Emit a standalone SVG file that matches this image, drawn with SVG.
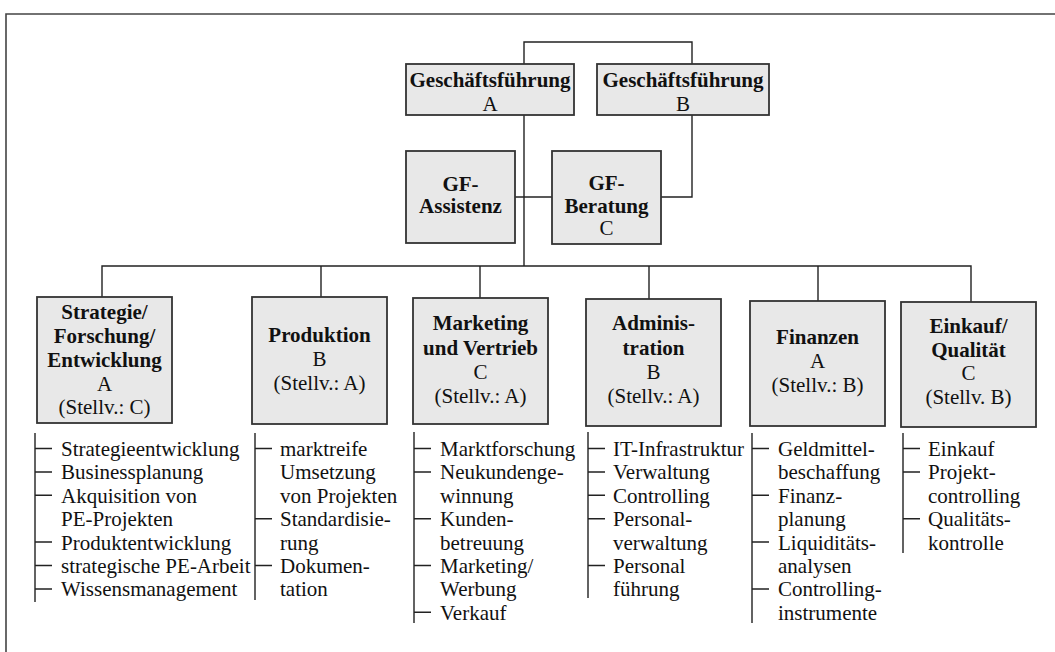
<svg xmlns="http://www.w3.org/2000/svg" width="1055" height="652" viewBox="0 0 1055 652">
<style>
.bg{fill:#ffffff}
.frame{fill:none;stroke:#444;stroke-width:1.6}
.box{fill:#e8e8e8;stroke:#333;stroke-width:1.8}
.ln{fill:none;stroke:#222;stroke-width:1.4}
.t{font-family:"Liberation Serif","Times New Roman",serif;font-size:21px;fill:#111;text-anchor:middle}
.b{font-weight:bold}
.li{font-family:"Liberation Serif","Times New Roman",serif;font-size:21px;fill:#111}
</style>
<rect class="bg" x="0" y="0" width="1055" height="652"/>
<path class="frame" d="M6,652 V14 H1055"/>

<g id="connectors">
  <path class="ln" d="M524,64 V42 H692 V64"/>
  <path class="ln" d="M524,115 V266"/>
  <path class="ln" d="M515,197 H552"/>
  <path class="ln" d="M692,115 V197 H661"/>
  <path class="ln" d="M102,297 V266 H971 V302"/>
  <path class="ln" d="M321,266 V297"/>
  <path class="ln" d="M480,266 V298"/>
  <path class="ln" d="M649,266 V299"/>
  <path class="ln" d="M818,266 V301"/>
</g>

<g id="gf-a">
  <rect class="box" x="406" y="64" width="168" height="51"/>
  <text class="t b" x="490" y="87">Geschäftsführung</text>
  <text class="t" x="490" y="111">A</text>
</g>
<g id="gf-b">
  <rect class="box" x="597" y="64" width="172" height="51"/>
  <text class="t b" x="683" y="87">Geschäftsführung</text>
  <text class="t" x="683" y="111">B</text>
</g>
<g id="gf-assistenz">
  <rect class="box" x="406" y="151" width="109" height="92"/>
  <text class="t b" x="460.5" y="191">GF-</text>
  <text class="t b" x="460.5" y="213">Assistenz</text>
</g>
<g id="gf-beratung">
  <rect class="box" x="552" y="151" width="109" height="93"/>
  <text class="t b" x="606.5" y="190">GF-</text>
  <text class="t b" x="606.5" y="213">Beratung</text>
  <text class="t" x="606.5" y="235">C</text>
</g>

<g id="strategie">
  <rect class="box" x="37" y="297" width="135" height="126"/>
  <text class="t b" x="104.5" y="319">Strategie/</text>
  <text class="t b" x="104.5" y="343">Forschung/</text>
  <text class="t b" x="104.5" y="367">Entwicklung</text>
  <text class="t" x="104.5" y="391">A</text>
  <text class="t" x="104.5" y="414">(Stellv.: C)</text>
</g>
<g id="produktion">
  <rect class="box" x="252" y="297" width="135" height="127"/>
  <text class="t b" x="319.5" y="342">Produktion</text>
  <text class="t" x="319.5" y="366">B</text>
  <text class="t" x="319.5" y="390">(Stellv.: A)</text>
</g>
<g id="marketing">
  <rect class="box" x="413" y="298" width="135" height="126"/>
  <text class="t b" x="480.5" y="330">Marketing</text>
  <text class="t b" x="480.5" y="355">und Vertrieb</text>
  <text class="t" x="480.5" y="379">C</text>
  <text class="t" x="480.5" y="403">(Stellv.: A)</text>
</g>
<g id="administration">
  <rect class="box" x="586" y="299" width="135" height="127"/>
  <text class="t b" x="653.5" y="330">Adminis-</text>
  <text class="t b" x="653.5" y="355">tration</text>
  <text class="t" x="653.5" y="379">B</text>
  <text class="t" x="653.5" y="403">(Stellv.: A)</text>
</g>
<g id="finanzen">
  <rect class="box" x="750" y="301" width="135" height="125"/>
  <text class="t b" x="817.5" y="344">Finanzen</text>
  <text class="t" x="817.5" y="368">A</text>
  <text class="t" x="817.5" y="392">(Stellv.: B)</text>
</g>
<g id="einkauf">
  <rect class="box" x="901" y="302" width="135" height="125"/>
  <text class="t b" x="968.5" y="333">Einkauf/</text>
  <text class="t b" x="968.5" y="357">Qualität</text>
  <text class="t" x="968.5" y="380">C</text>
  <text class="t" x="968.5" y="404">(Stellv. B)</text>
</g>

<g id="list-strategie">
  <path class="ln" d="M35,433 V602 M35,448.5 H52 M35,472 H52 M35,495.3 H52 M35,542 H52 M35,565.5 H52 M35,589 H52"/>
  <text class="li" x="61" y="456">Strategieentwicklung</text>
  <text class="li" x="61" y="479.4">Businessplanung</text>
  <text class="li" x="61" y="502.8">Akquisition von</text>
  <text class="li" x="61" y="526.2">PE-Projekten</text>
  <text class="li" x="61" y="549.6">Produktentwicklung</text>
  <text class="li" x="61" y="573">strategische PE-Arbeit</text>
  <text class="li" x="61" y="596.4">Wissensmanagement</text>
</g>
<g id="list-produktion">
  <path class="ln" d="M255,433 V600 M255,448.5 H272 M255,518.7 H272 M255,565.5 H272"/>
  <text class="li" x="280" y="456">marktreife</text>
  <text class="li" x="280" y="479.4">Umsetzung</text>
  <text class="li" x="280" y="502.8">von Projekten</text>
  <text class="li" x="280" y="526.2">Standardisie-</text>
  <text class="li" x="280" y="549.6">rung</text>
  <text class="li" x="280" y="573">Dokumen-</text>
  <text class="li" x="280" y="596.4">tation</text>
</g>
<g id="list-marketing">
  <path class="ln" d="M414,432 V623 M414,448.5 H431 M414,472 H431 M414,518.7 H431 M414,565.5 H431 M414,612.3 H431"/>
  <text class="li" x="440" y="456">Marktforschung</text>
  <text class="li" x="440" y="479.4">Neukundenge-</text>
  <text class="li" x="440" y="502.8">winnung</text>
  <text class="li" x="440" y="526.2">Kunden-</text>
  <text class="li" x="440" y="549.6">betreuung</text>
  <text class="li" x="440" y="573">Marketing/</text>
  <text class="li" x="440" y="596.4">Werbung</text>
  <text class="li" x="440" y="619.8">Verkauf</text>
</g>
<g id="list-administration">
  <path class="ln" d="M588,432 V598 M588,448.5 H605 M588,472 H605 M588,495.3 H605 M588,518.7 H605 M588,565.5 H605"/>
  <text class="li" x="613" y="456">IT-Infrastruktur</text>
  <text class="li" x="613" y="479.4">Verwaltung</text>
  <text class="li" x="613" y="502.8">Controlling</text>
  <text class="li" x="613" y="526.2">Personal-</text>
  <text class="li" x="613" y="549.6">verwaltung</text>
  <text class="li" x="613" y="573">Personal</text>
  <text class="li" x="613" y="596.4">führung</text>
</g>
<g id="list-finanzen">
  <path class="ln" d="M752,433 V623 M752,448.5 H769 M752,495.3 H769 M752,542 H769 M752,589 H769"/>
  <text class="li" x="778" y="456">Geldmittel-</text>
  <text class="li" x="778" y="479.4">beschaffung</text>
  <text class="li" x="778" y="502.8">Finanz-</text>
  <text class="li" x="778" y="526.2">planung</text>
  <text class="li" x="778" y="549.6">Liquiditäts-</text>
  <text class="li" x="778" y="573">analysen</text>
  <text class="li" x="778" y="596.4">Controlling-</text>
  <text class="li" x="778" y="619.8">instrumente</text>
</g>
<g id="list-einkauf">
  <path class="ln" d="M903,433 V553 M903,448.5 H920 M903,472 H920 M903,518.7 H920"/>
  <text class="li" x="928" y="456">Einkauf</text>
  <text class="li" x="928" y="479.4">Projekt-</text>
  <text class="li" x="928" y="502.8">controlling</text>
  <text class="li" x="928" y="526.2">Qualitäts-</text>
  <text class="li" x="928" y="549.6">kontrolle</text>
</g>
</svg>
